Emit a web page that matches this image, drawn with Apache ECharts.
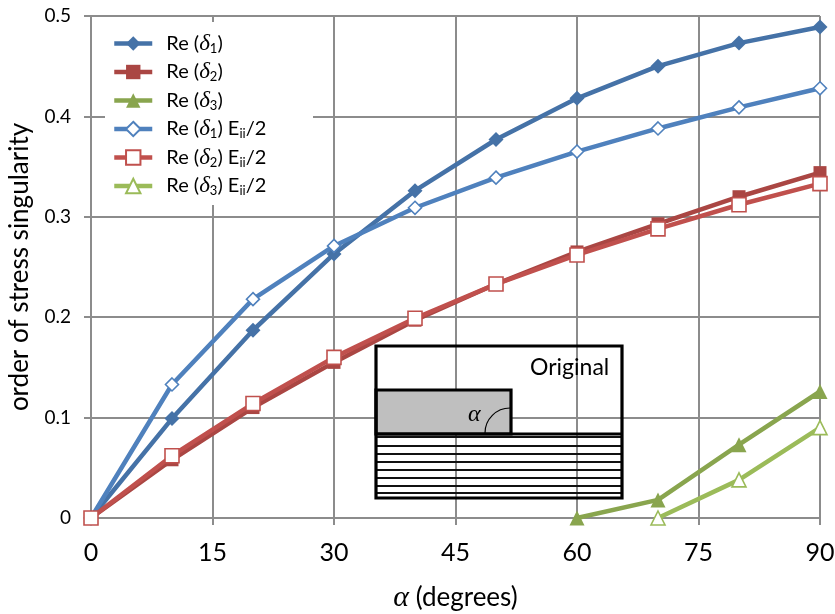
<!DOCTYPE html>
<html><head><meta charset="utf-8">
<style>html,body{margin:0;padding:0;background:#fff}#c{width:835px;height:614px}</style>
<script src="https://cdn.jsdelivr.net/npm/echarts@6/dist/echarts.min.js"></script>
</head><body><div id="c"></div>
<script>
const angles = [0,10,20,30,40,50,60,70,80,90];
const xTicks = [0,15,30,45,60,75,90];
const re1 = [0,0.099,0.187,0.263,0.326,0.377,0.418,0.450,0.473,0.489];
const re2 = [0,0.058,0.110,0.155,0.197,0.233,0.265,0.293,0.320,0.344];
const re3 = [null,null,null,null,null,null,0,0.018,0.073,0.126];
const re1E = [0,0.133,0.218,0.271,0.309,0.339,0.365,0.388,0.409,0.428];
const re2E = [0,0.062,0.114,0.160,0.199,0.233,0.262,0.288,0.312,0.333];
const re3E = [null,null,null,null,null,null,null,0,0.038,0.090];
const names = ['d1','d2','d3','d1E','d2E','d3E'];
const labels = {
  d1:'Re ({d|δ}{s|1})', d2:'Re ({d|δ}{s|2})', d3:'Re ({d|δ}{s|3})',
  d1E:'Re ({d|δ}{s|1}) E{s|ii}/2', d2E:'Re ({d|δ}{s|2}) E{s|ii}/2', d3E:'Re ({d|δ}{s|3}) E{s|ii}/2'
};
const FONT = 'Lato';
const GRID = '#8c8c8c';
const toPairs = a => angles.map((x,i)=>[x,a[i]]).filter(p=>p[1]!==null);
function line(name,data,color,symbol,size,open){
  return {name,type:'line',data:toPairs(data),symbol,symbolSize:size,showSymbol:true,smooth:false,z:3,
    lineStyle:{color,width:4.5},
    itemStyle: open?{color:'#fff',borderColor:color,borderWidth:1.6}:{color,borderColor:color,borderWidth:0},
    emphasis:{disabled:true},animation:false};
}
const hatch = [437,446,454,462,470,478,486,493];
const inset = [
  {type:'rect',z:1,shape:{x:105,y:22,width:208,height:183},style:{fill:'#fff'}},
  {type:'rect',z:1,shape:{x:376,y:390,width:135,height:44},style:{fill:'#bfbfbf'}},
  ...hatch.map(y=>({type:'line',z:2,shape:{x1:376,y1:y,x2:622,y2:y},style:{stroke:'#111',lineWidth:2}})),
  {type:'line',z:2,shape:{x1:376,y1:434,x2:622,y2:434},style:{stroke:'#000',lineWidth:3}},
  {type:'rect',z:2,shape:{x:376,y:346,width:246,height:152},style:{fill:'none',stroke:'#000',lineWidth:3.2}},
  {type:'rect',z:2,shape:{x:376,y:390,width:135,height:44},style:{fill:'none',stroke:'#000',lineWidth:3.2}},
  {type:'arc',z:2,shape:{cx:510,cy:433,r:25,startAngle:Math.PI,endAngle:Math.PI*1.5},style:{fill:'none',stroke:'#000',lineWidth:1.2}},
  {type:'text',z:2,style:{x:468,y:403,text:'α',fill:'#000',font:'italic 24px "Liberation Serif"'}},
  {type:'text',z:2,style:{x:530,y:356,text:'Original',fill:'#000',font:'23px '+FONT}}
];
const chart = echarts.init(document.getElementById('c'),null,{renderer:'canvas'});
chart.setOption({
  animation:false,backgroundColor:'#fff',
  grid:{left:91,right:15,top:16,bottom:96,containLabel:false,outerBoundsMode:'none'},
  xAxis:{type:'value',min:0,max:90,interval:15,
    axisLine:{show:true,onZero:false,lineStyle:{color:GRID,width:2}},
    axisTick:{show:true,length:7,lineStyle:{color:GRID,width:2}},
    splitLine:{show:true,lineStyle:{color:GRID,width:2}},
    axisLabel:{fontFamily:FONT,fontSize:25,color:'#000',margin:22,formatter:v=>xTicks.includes(v)?String(v):''},
    name:'{a|α} (degrees)',nameLocation:'middle',nameGap:65,
    nameTextStyle:{fontFamily:FONT,fontSize:26,color:'#000',rich:{a:{fontFamily:'Liberation Serif',fontStyle:'italic',fontSize:30,color:'#000'}}}},
  yAxis:{type:'value',min:0,max:0.5,interval:0.1,
    axisLine:{show:true,lineStyle:{color:GRID,width:2}},
    axisTick:{show:true,length:7,lineStyle:{color:GRID,width:2}},
    splitLine:{show:true,lineStyle:{color:GRID,width:2}},
    axisLabel:{fontFamily:FONT,fontSize:19,color:'#000',margin:20},
    name:'order of stress singularity',nameLocation:'middle',nameGap:58,
    nameTextStyle:{fontFamily:FONT,fontSize:26,color:'#000'}},
  legend:{orient:'vertical',left:107,top:27,itemWidth:38,itemHeight:18,itemGap:5.5,z:5,
    data:names,selectedMode:false,
    formatter:n=>labels[n],
    lineStyle:{width:4.5},
    textStyle:{fontFamily:FONT,fontSize:20,color:'#000',padding:[0,0,0,9],
      rich:{d:{fontFamily:'Liberation Serif',fontStyle:'italic',fontSize:23,color:'#000'},
            s:{fontFamily:FONT,fontSize:13,color:'#000',verticalAlign:'bottom',padding:[7,0,0,0]}}}},
  graphic:inset,
  series:[
    line('d1',re1,'#4572A7','diamond',15,false),
    line('d2',re2,'#AA4643','rect',13,false),
    line('d3',re3,'#89A54E','triangle',15,false),
    line('d1E',re1E,'#4F81BD','diamond',13,true),
    line('d2E',re2E,'#C0504D','rect',14,true),
    line('d3E',re3E,'#9BBB59','triangle',14,true)
  ]
});
</script></body></html>
